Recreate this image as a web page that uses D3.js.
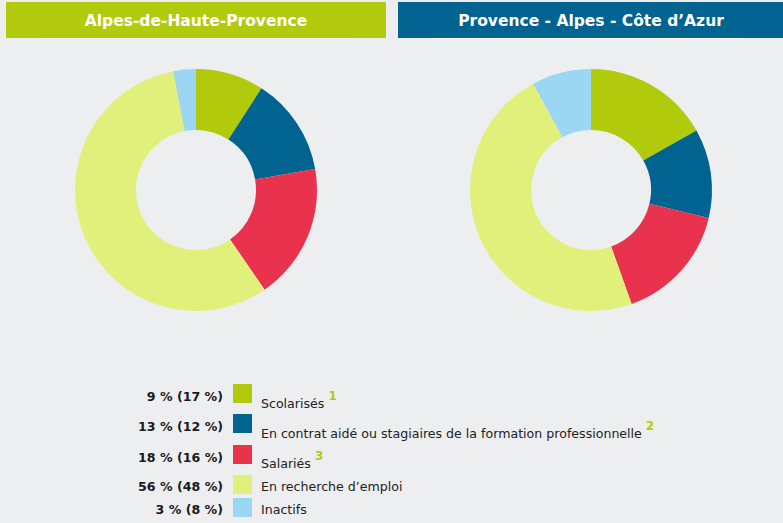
<!DOCTYPE html>
<html>
<head>
<meta charset="utf-8">
<script src="https://cdn.jsdelivr.net/npm/d3@7"></script>
<style>
  html, body { margin: 0; padding: 0; background: #edeef0; }
  svg { display: block; font-family: "DejaVu Sans", Verdana, sans-serif; }
</style>
</head>
<body>
<svg id="chart" width="783" height="523"></svg>
<script>
// --- DATA ---
const categories = [
    "Scolarisés",
    "En contrat aidé ou stagiaires de la formation professionnelle",
    "Salariés",
    "En recherche d’emploi",
    "Inactifs"
];
const notes = ["1", "2", "3", "", ""];
const departement = [9, 13, 18, 56, 3];   // Alpes-de-Haute-Provence
const region = [17, 12, 16, 48, 8];       // Provence - Alpes - Côte d'Azur
const titles = ["Alpes-de-Haute-Provence", "Provence - Alpes - Côte d’Azur"];
const colors = ["#b1ca0c", "#006390", "#e8324e", "#e1f07b", "#9bd6f2"];
const headerColors = ["#b1ca0c", "#006390"];

// --- SETUP ---
const svg = d3.select("#chart");

const panels = [
    { title: titles[0], values: departement, x0: 6, x1: 386, cx: 196, header: headerColors[0] },
    { title: titles[1], values: region, x0: 398, x1: 783, cx: 591, header: headerColors[1] }
];

const pie = d3.pie().sort(null).value(d => d);
const arc = d3.arc().innerRadius(60).outerRadius(121);

panels.forEach(p => {
    const g = svg.append("g");
    // header bar
    g.append("rect")
        .attr("x", p.x0).attr("y", 2)
        .attr("width", p.x1 - p.x0).attr("height", 36)
        .attr("fill", p.header);
    g.append("rect")
        .attr("x", p.x0 + 34).attr("y", 38)
        .attr("width", 312).attr("height", 1)
        .attr("fill", "#ffffff");
    g.append("text")
        .attr("x", p.cx).attr("y", 26)
        .attr("text-anchor", "middle")
        .attr("font-size", "15.5px")
        .attr("font-weight", "bold")
        .attr("fill", "#ffffff")
        .text(p.title);

    // donut
    g.append("g")
        .attr("transform", `translate(${p.cx},190)`)
        .selectAll("path")
        .data(pie(p.values))
        .join("path")
        .attr("d", arc)
        .attr("fill", (d, i) => colors[i]);
});

// --- LEGEND ---
const swatchY = [384, 414, 445, 475, 498];
const valueY = [401, 431, 462, 491, 514];
const labelY = [408, 438, 468, 491, 514];

const legend = svg.append("g").attr("class", "legend");
categories.forEach((c, i) => {
    legend.append("text")
        .attr("x", 223).attr("y", valueY[i])
        .attr("text-anchor", "end")
        .attr("font-size", "12.6px")
        .attr("font-weight", "bold")
        .attr("fill", "#1a1a1a")
        .text(`${departement[i]} % (${region[i]} %)`);
    legend.append("rect")
        .attr("x", 233).attr("y", swatchY[i])
        .attr("width", 19).attr("height", 19)
        .attr("fill", colors[i]);
    const t = legend.append("text")
        .attr("x", 261).attr("y", labelY[i])
        .attr("font-size", "12.6px")
        .attr("fill", "#222222")
        .text(c);
    if (notes[i]) {
        t.append("tspan")
            .attr("dx", 4).attr("dy", -8)
            .attr("font-size", "12px")
            .attr("font-weight", "bold")
            .attr("fill", "#b1ca0c")
            .text(notes[i]);
    }
});
</script>
</body>
</html>
